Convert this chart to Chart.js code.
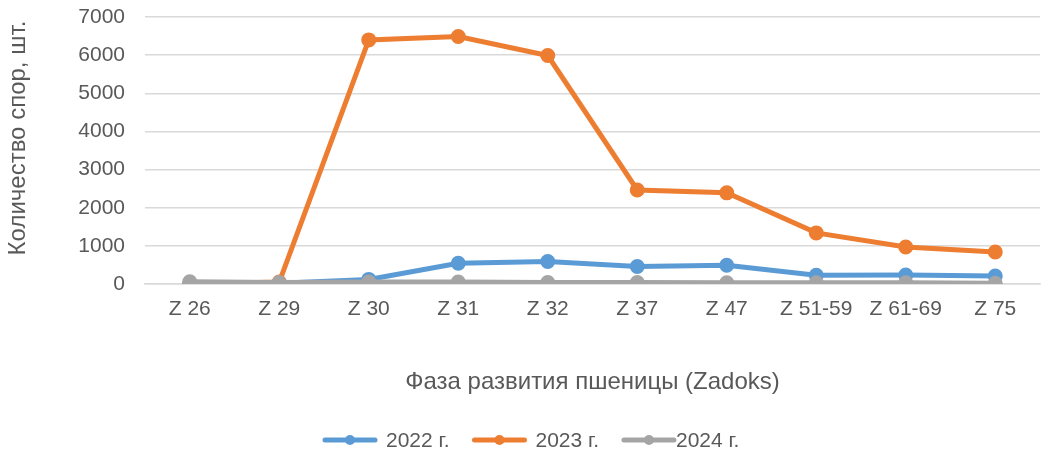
<!DOCTYPE html>
<html>
<head>
<meta charset="utf-8">
<script src="https://cdn.jsdelivr.net/npm/chart.js@4/dist/chart.umd.min.js"></script>
<style>
  html, body { margin: 0; padding: 0; background: #fff; }
  #wrap { width: 1050px; height: 451px; }
</style>
</head>
<body>
<div id="wrap"><canvas id="chart" width="1050" height="451"></canvas></div>
<script>
// данные
const phases = ['Z 26', 'Z 29', 'Z 30', 'Z 31', 'Z 32', 'Z 37', 'Z 47', 'Z 51-59', 'Z 61-69', 'Z 75'];
const y2022 = [0, 20, 120, 545, 590, 460, 490, 230, 235, 210];
const y2023 = [0, 50, 6400, 6490, 5990, 2465, 2390, 1340, 970, 840];
const y2024 = [60, 40, 50, 50, 40, 40, 30, 30, 30, 20];
const seriesNames = ['2022 г.', '2023 г.', '2024 г.'];
const seriesColors = ['#5b9bd5', '#ed7d31', '#a5a5a5'];
const yTitle = 'Количество спор, шт.';

const textColor = '#595959';
const fontFamily = '"Liberation Sans", Arial, sans-serif';

// легенда снизу и подпись оси Y, как в Excel
const excelExtras = {
    id: 'excelExtras',
    afterDraw(chart) {
        const ctx = chart.ctx;
        ctx.save();

        // подпись оси Y
        ctx.font = '24px ' + fontFamily;
        ctx.fillStyle = textColor;
        ctx.textAlign = 'center';
        ctx.textBaseline = 'middle';
        ctx.translate(18, 138);
        ctx.rotate(-Math.PI / 2);
        ctx.fillText(yTitle, 0, 0);
        ctx.setTransform(1, 0, 0, 1, 0, 0);

        // легенда
        const y = 440;
        let x = 325;
        ctx.font = '21px ' + fontFamily;
        ctx.textAlign = 'left';
        chart.data.datasets.forEach((ds, i) => {
            ctx.strokeStyle = ds.borderColor;
            ctx.lineWidth = 5;
            ctx.lineCap = 'round';
            ctx.beginPath();
            ctx.moveTo(x, y);
            ctx.lineTo(x + 50, y);
            ctx.stroke();
            ctx.fillStyle = ds.borderColor;
            ctx.beginPath();
            ctx.arc(x + 25, y, 5, 0, Math.PI * 2);
            ctx.fill();
            x += 50 + (i === chart.data.datasets.length - 1 ? 2 : 11);
            ctx.fillStyle = textColor;
            ctx.fillText(ds.label, x, y + 1);
            x += ctx.measureText(ds.label).width + 25;
        });
        ctx.restore();
    }
};

const datasets = [y2022, y2023, y2024].map((vals, i) => ({
    label: seriesNames[i],
    data: vals,
    borderColor: seriesColors[i],
    backgroundColor: seriesColors[i],
    borderWidth: 5,
    pointRadius: 5,
    pointHoverRadius: 5,
    tension: 0,
    order: i === 2 ? 0 : (i === 0 ? 1 : 2)
}));

const ctx = document.getElementById('chart').getContext('2d');
new Chart(ctx, {
    type: 'line',
    data: { labels: phases, datasets: datasets },
    options: {
        responsive: false,
        animation: false,
        layout: { padding: { top: 17, right: 0, bottom: 45, left: 0 } },
        plugins: {
            legend: { display: false },
            tooltip: { enabled: false }
        },
        scales: {
            x: {
                offset: true,
                grid: { display: false, drawTicks: false },
                border: { color: '#d9d9d9', width: 1.5 },
                ticks: { color: textColor, font: { family: fontFamily, size: 21 }, padding: 13, maxRotation: 0 },
                title: {
                    display: true,
                    text: 'Фаза развития пшеницы (Zadoks)',
                    color: textColor,
                    font: { family: fontFamily, size: 24 },
                    padding: { top: 0, bottom: 9 }
                },
                afterFit(axis) { axis.height = 122; }
            },
            y: {
                min: 0,
                max: 7000,
                grid: { color: '#d9d9d9', lineWidth: 1.5, drawTicks: false },
                border: { display: false },
                ticks: {
                    stepSize: 1000,
                    color: textColor,
                    font: { family: fontFamily, size: 21 },
                    padding: 20,
                    callback: v => String(v)
                },
                afterFit(axis) {
                    axis.width = 145;
                    axis.paddingTop = 0;
                    axis.paddingBottom = 0;
                }
            }
        }
    },
    plugins: [excelExtras]
});
</script>
</body>
</html>
